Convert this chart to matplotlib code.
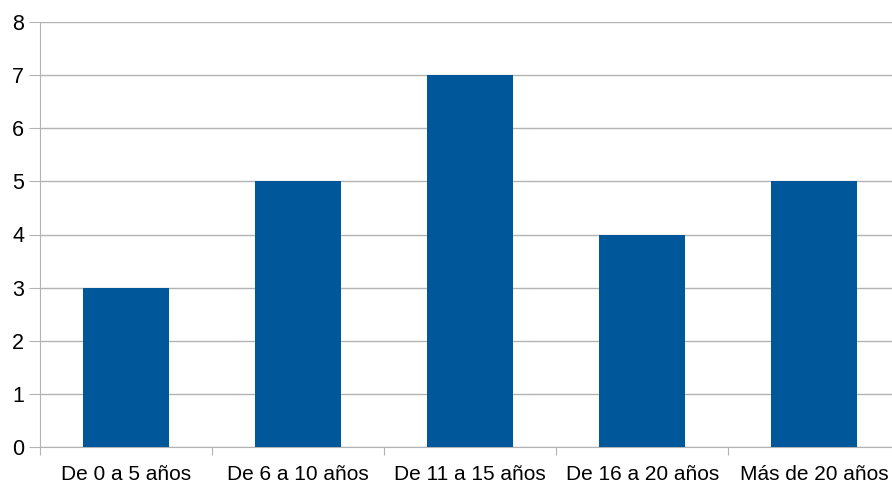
import matplotlib
matplotlib.use('Agg')
import matplotlib.pyplot as plt
import numpy as np

# Datos
categorias = ['De 0 a 5 años', 'De 6 a 10 años', 'De 11 a 15 años',
              'De 16 a 20 años', 'Más de 20 años']
valores = [3, 5, 7, 4, 5]

plt.rcParams['font.family'] = ['Liberation Sans', 'DejaVu Sans']

fig = plt.figure(figsize=(8.92, 4.84), dpi=100)
# el eje se extiende un poco más allá del borde derecho de la imagen
ax = fig.add_axes([39.5 / 892, 37 / 484, 861 / 892, 425 / 484])

x = np.arange(len(categorias))
ax.bar(x, valores, width=0.5, color='#00589b', zorder=3)

ax.set_xlim(-0.5, len(categorias) - 0.5)
ax.set_ylim(0, 8)
ax.set_yticks(range(0, 9))
ax.yaxis.grid(True, color='#b3b3b3', linewidth=1, zorder=0)

# Marcas entre categorías, etiquetas centradas
ax.set_xticks(np.arange(-0.5, len(categorias), 1.0))
ax.set_xticklabels([])
ax.set_xticks(x, minor=True)
ax.set_xticklabels(categorias, minor=True, fontsize=15)
ax.tick_params(axis='x', which='minor', length=0, pad=13)
ax.tick_params(axis='x', which='major', length=6, color='#b3b3b3')
ax.tick_params(axis='y', length=8, color='#b3b3b3', labelsize=15.5, pad=3)

for s in ['top', 'right']:
    ax.spines[s].set_visible(False)
for s in ['left', 'bottom']:
    ax.spines[s].set_color('#b3b3b3')

plt.savefig('out.png', dpi=100)
